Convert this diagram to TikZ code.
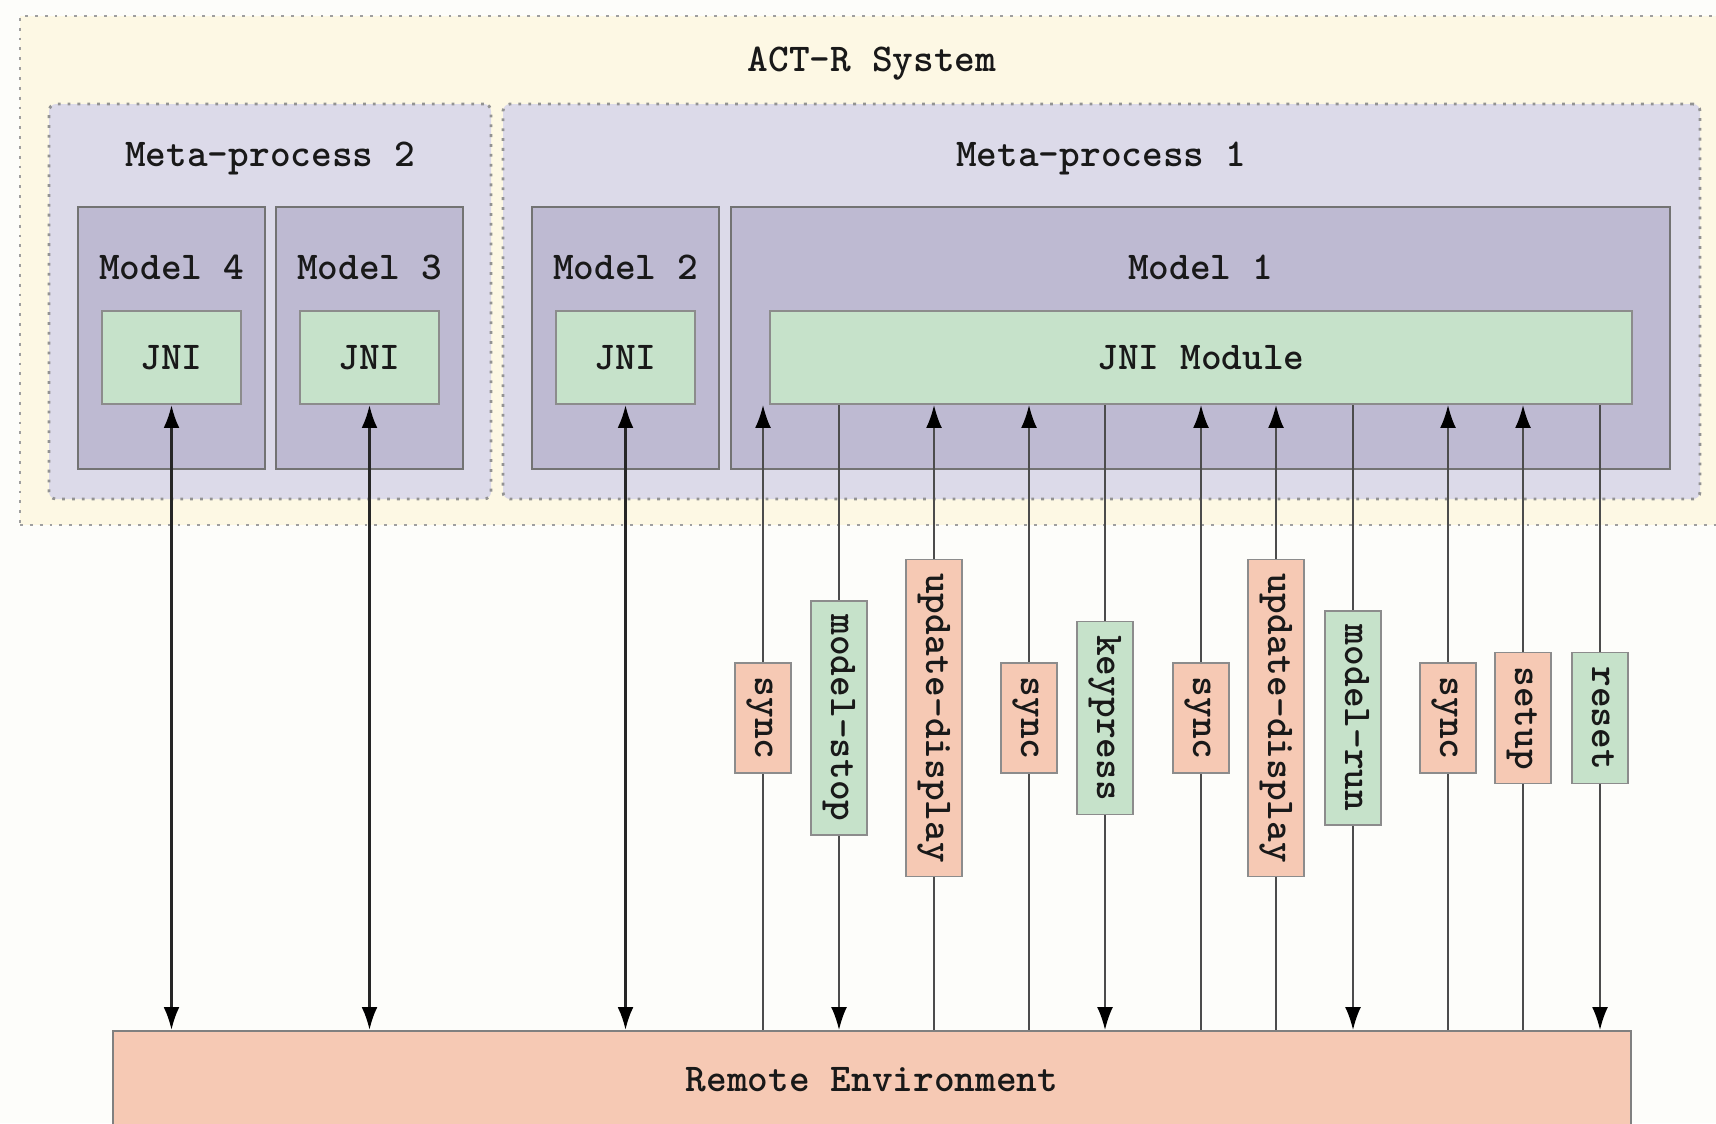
\documentclass[tikz,border=0pt]{standalone}
\usepackage{xcolor}
\usepackage{tikz}
\usetikzlibrary{arrows.meta,positioning,fit}
\definecolor{paper}{RGB}{253,253,250}
\definecolor{sysfill}{RGB}{253,248,228}
\definecolor{metafill}{RGB}{220,218,233}
\definecolor{modelfill}{RGB}{190,186,210}
\definecolor{jnifill}{RGB}{198,226,202}
\definecolor{envfill}{RGB}{246,201,180}

\begin{document}
\begin{tikzpicture}[
    x=0.01cm, y=-0.01cm,
    every node/.style={font=\fontsize{11.2}{13}\selectfont\ttfamily\bfseries, text=black!90},
    frame/.style={inner sep=0pt},
    sysbox/.style={frame, fill=sysfill, draw=gray!75, dotted, thick},
    metabox/.style={frame, fill=metafill, draw=gray!85, dotted, thick, rounded corners=2pt},
    modelbox/.style={frame, fill=modelfill, draw=black!55, line width=0.6pt},
    jnibox/.style={frame, fill=jnifill, draw=black!45, line width=0.6pt},
    envbox/.style={frame, fill=envfill, draw=black!50, line width=0.6pt},
    msg/.style={rotate=-90, draw=black!45, line width=0.5pt, inner xsep=3.9pt, inner ysep=3.4pt, text height=6.8pt, text depth=2.3pt},
    msgin/.style={msg, fill=envfill},
    msgout/.style={msg, fill=jnifill},
    link/.style={black!70, line width=0.5pt, -{Latex[length=6.5pt,width=4.5pt,color=black]}},
    biglink/.style={black!85, line width=0.7pt, {Latex[length=6.5pt,width=4.5pt,color=black]}-{Latex[length=6.5pt,width=4.5pt,color=black]}}
  ]
    \useasboundingbox (0,0) rectangle (1716,1123);
    \clip (0,0) rectangle (1716,1123);
    \fill[paper] (0,0) rectangle (1716,1123);
    % containers
    \node[sysbox, fit={(20,16) (1724,525)}] (sys) {};
    \node (systitle) at (872,64) {ACT-R System};
    \node[metabox, fit={(49,104) (491,499)}] (meta2) {};
    \node[metabox, fit={(503,104) (1700,499)}] (meta1) {};
    \node (meta2title) at (270,158) {Meta-process 2};
    \node (meta1title) at (1101,158) {Meta-process 1};
    \node[modelbox, fit={(78,207) (265,469)}] (model4) {};
    \node[modelbox, fit={(276,207) (463,469)}] (model3) {};
    \node[modelbox, fit={(532,207) (719,469)}] (model2) {};
    \node[modelbox, fit={(731,207) (1670,469)}] (model1) {};
    \node (model4title) at (171.5,267) {Model 4};
    \node (model3title) at (369.5,267) {Model 3};
    \node (model2title) at (625.5,267) {Model 2};
    \node (model1title) at (1200.5,267) {Model 1};
    \node[jnibox, fit={(102,311) (241,404)}] (jni4) {};
    \node[jnibox, fit={(300,311) (439,404)}] (jni3) {};
    \node[jnibox, fit={(556,311) (695,404)}] (jni2) {};
    \node[jnibox, fit={(770,311) (1632,404)}] (jnim) {};
    \node (jni4text) at (jni4) {JNI};
    \node (jni3text) at (jni3) {JNI};
    \node (jni2text) at (jni2) {JNI};
    \node (jnimtext) at (jnim) {JNI Module};
    \node[envbox, fit={(113,1031) (1631,1129)}] (env) {};
    \node (envtext) at (env) {Remote Environment};
    % plain JNI links
    \draw[biglink] (jni4.south) -- (env.north -| jni4.south);
    \draw[biglink] (jni3.south) -- (env.north -| jni3.south);
    \draw[biglink] (jni2.south) -- (env.north -| jni2.south);
    % messages into model 1
    \foreach \nm/\xx/\txt in {sa/763/sync, ua/934/update-display, sb/1029/sync, sc/1201/sync,
        ub/1276/update-display, sd/1448/sync, su/1523/setup}
    {
      \coordinate (p\nm) at (\xx,718);
      \draw[link] (env.north -| p\nm) -- (jnim.south -| p\nm);
      \node[msgin] (\nm) at (p\nm) {\txt};
    }
    % messages out of model 1
    \foreach \nm/\xx/\txt in {ms/839/model-stop, kp/1105/keypress, mr/1353/model-run, rs/1600/reset}
    {
      \coordinate (p\nm) at (\xx,718);
      \draw[link] (jnim.south -| p\nm) -- (env.north -| p\nm);
      \node[msgout] (\nm) at (p\nm) {\txt};
    }
\end{tikzpicture}
\end{document}
